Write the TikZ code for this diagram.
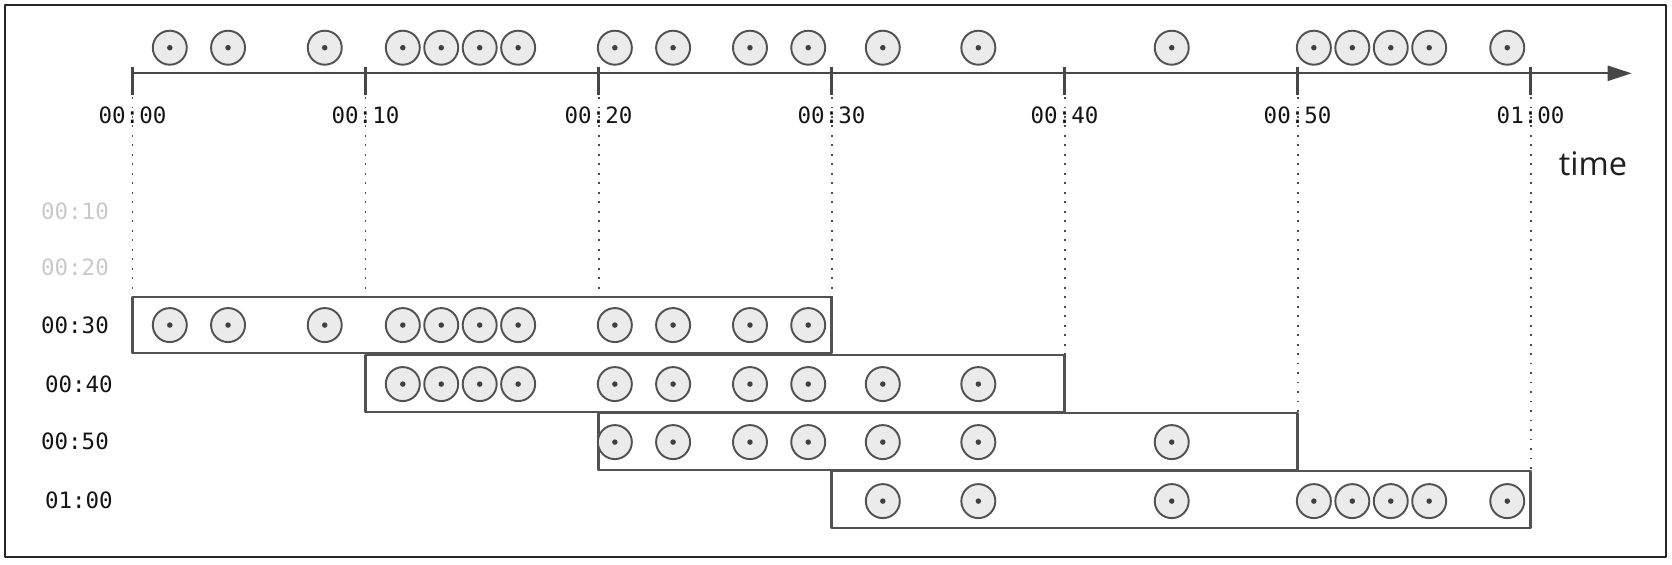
\documentclass[tikz,border=0pt]{standalone}
\usepackage{fontspec}
\setmonofont{DejaVu Sans Mono}
\newfontfamily\timefont{Open Sans}
\usetikzlibrary{arrows.meta}
\tikzset{
  event/.style={circle, draw=black!68, fill=black!8, line width=1.1pt, minimum size=0.68cm, inner sep=0pt,
    path picture={\fill[black!75] (path picture bounding box.center) circle (0.055cm);}},
  winbox/.style={draw=black!68, fill=white, line width=1.3pt},
  tlabel/.style={font=\ttfamily\fontsize{12.8}{15}\selectfont, text=black!92, inner sep=0pt},
  guide/.style={black!70, line width=1.1pt, dash pattern=on 1pt off 4.4pt},
}
\begin{document}
\begin{tikzpicture}[x=0.466cm, y=-0.02cm, line join=round, >={Triangle[length=0.48cm,width=0.3cm]}]
  \def\ya{73.3} \def\yl{115} % y of the time axis, y of its labels (x in minutes, y in px from the top)
  \useasboundingbox (-5.687,0) rectangle (66.07,564);
  \draw[line width=0.9pt, black!85] (-5.472,5) rectangle (65.815,557);
  % guides first, the windows cover them
  \foreach \m/\e in {0/297, 10/297, 20/297, 30/297, 40/412, 50/470, 60/471}
    \draw[guide] (\m,97) -- (\m,\e);
  \draw[->, black!72, line width=1.3pt] (0,\ya) -- (64.34,\ya);
  \foreach \m/\t in {0/00:00, 10/00:10, 20/00:20, 30/00:30, 40/00:40, 50/00:50, 60/01:00} {
    \draw[black!72, line width=1.3pt] (\m,66.7) -- (\m,95);
    \node[tlabel] (tick\m) at (\m,\yl) {\t};
  }
  \node[font=\timefont\fontsize{18.5}{22}\selectfont, text=black!88, anchor=base] (timelbl) at (62.68,175) {time};
  \foreach \t [count=\i] in {1.6, 4.1, 8.25, 11.6, 13.25, 14.9, 16.55, 20.7, 23.2, 26.5, 29, 32.2, 36.3, 44.6, 50.7, 52.35, 54, 55.65, 59}
    \node[event] (ev\i) at (\t,47.7) {};
  % windows
  \draw[winbox] (0,297) rectangle (30,353);
  \draw[winbox] (10,355) rectangle (40,412);
  \draw[winbox] (20,413) rectangle (50,470);
  \draw[winbox] (30,471) rectangle (60,528);
  \foreach \t [count=\i] in {1.6, 4.1, 8.25, 11.6, 13.25, 14.9, 16.55, 20.7, 23.2, 26.5, 29}
    \node[event] (wa\i) at (\t,325) {};
  \foreach \t [count=\i] in {11.6, 13.25, 14.9, 16.55, 20.7, 23.2, 26.5, 29, 32.2, 36.3}
    \node[event] (wb\i) at (\t,384) {};
  \foreach \t [count=\i] in {20.7, 23.2, 26.5, 29, 32.2, 36.3, 44.6}
    \node[event] (wc\i) at (\t,442) {};
  \foreach \t [count=\i] in {32.2, 36.3, 44.6, 50.7, 52.35, 54, 55.65, 59}
    \node[event] (wd\i) at (\t,501) {};
  \node[tlabel, text=black!21] (row10) at (-2.47,211.7) {00:10};
  \node[tlabel, text=black!21] (row20) at (-2.47,267.7) {00:20};
  \node[tlabel] (row30) at (-2.47,325) {00:30};
  \node[tlabel] (row40) at (-2.30,384) {00:40};
  \node[tlabel] (row50) at (-2.47,441.5) {00:50};
  \node[tlabel] (row60) at (-2.30,500) {01:00};
\end{tikzpicture}
\end{document}
